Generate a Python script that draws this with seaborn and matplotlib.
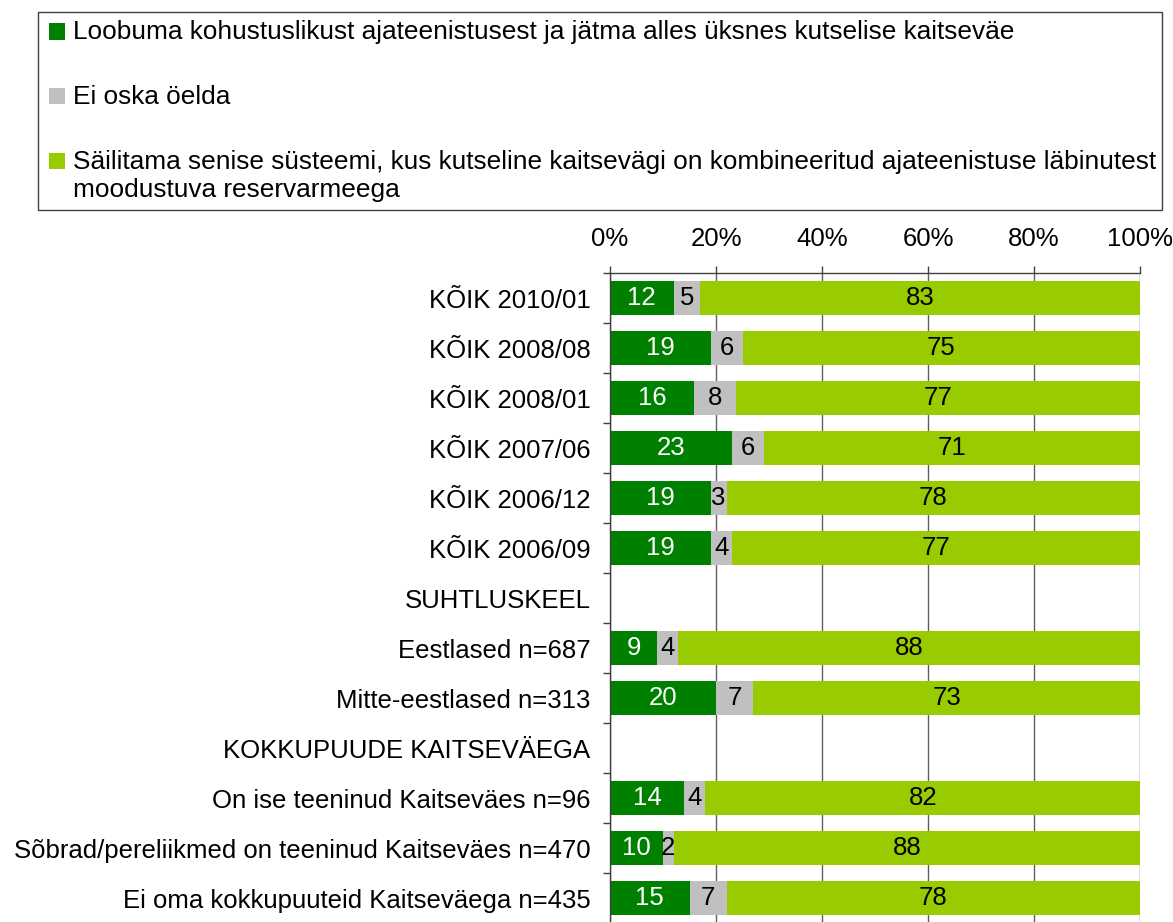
import numpy as np
import pandas as pd
import matplotlib
matplotlib.use("Agg")
import matplotlib.pyplot as plt
from matplotlib.patches import Patch, Rectangle
from matplotlib.legend_handler import HandlerPatch
import seaborn as sns

sns.set_theme(style="white")
plt.rcParams['font.family'] = ['Liberation Sans', 'DejaVu Sans']
plt.rcParams['text.color'] = 'black'

# Survey groups (rows without bars are section headers)
categories = [
    "KÕIK 2010/01",
    "KÕIK 2008/08",
    "KÕIK 2008/01",
    "KÕIK 2007/06",
    "KÕIK 2006/12",
    "KÕIK 2006/09",
    "SUHTLUSKEEL",
    "Eestlased n=687",
    "Mitte-eestlased n=313",
    "KOKKUPUUDE KAITSEVÄEGA",
    "On ise teeninud Kaitseväes n=96",
    "Sõbrad/pereliikmed on teeninud Kaitseväes n=470",
    "Ei oma kokkupuuteid Kaitseväega n=435",
]
nan = np.nan
loobuma = [12, 19, 16, 23, 19, 19, nan, 9, 20, nan, 14, 10, 15]
ei_oska = [5, 6, 8, 6, 3, 4, nan, 4, 7, nan, 4, 2, 7]
sailitama = [83, 75, 77, 71, 78, 77, nan, 88, 73, nan, 82, 88, 78]

series_names = [
    "Loobuma kohustuslikust ajateenistusest ja jätma alles üksnes kutselise kaitseväe",
    "Ei oska öelda",
    "Säilitama senise süsteemi, kus kutseline kaitsevägi on kombineeritud ajateenistuse läbinutest\nmoodustuva reservarmeega",
]
colors = ["#008000", "#C0C0C0", "#99CC00"]
text_colors = ["white", "black", "black"]

raw = pd.DataFrame({"group": categories, "s0": loobuma, "s1": ei_oska, "s2": sailitama})
cols = ["s0", "s1", "s2"]
total = raw[cols].sum(axis=1, min_count=1)
share = raw[cols].div(total, axis=0) * 100
cum = share.cumsum(axis=1)

FS = 18.5
FS_LEG = 18.9
fig = plt.figure(figsize=(11.73, 9.22), dpi=100)
ax = fig.add_axes([610 / 1173, -1 / 922, 530 / 1173, 650 / 922])

# stacked bars: draw cumulative extents from the outermost segment inwards
for i in reversed(range(3)):
    frame = pd.DataFrame({"group": categories, "right": cum[cols[i]]})
    sns.barplot(data=frame, x="right", y="group", order=categories, orient="h",
                color=colors[i], saturation=1, width=0.68, errorbar=None,
                linewidth=0, ax=ax, zorder=2)

# value labels centred in each segment
for r in range(len(categories)):
    for i, c in enumerate(cols):
        v = raw.loc[r, c]
        if np.isnan(v):
            continue
        centre = cum.loc[r, c] - share.loc[r, c] / 2
        ax.text(centre, r, f"{int(v)}", ha="center", va="center",
                color=text_colors[i], fontsize=FS, zorder=3)

ax.set_xlim(0, 100)
ax.set_ylim(len(categories) - 0.5, -0.5)
ax.set_xlabel("")
ax.set_ylabel("")

ax.set_xticks(np.arange(0, 101, 20))
ax.set_xticklabels([f"{t}%" for t in range(0, 101, 20)])
ax.tick_params(axis="x", top=True, labeltop=True, bottom=False, labelbottom=False,
               direction="out", length=5, width=1, color="#404040",
               labelsize=FS, pad=11, labelcolor="black")
ax.set_yticks(np.arange(-0.5, len(categories), 1), minor=True)
ax.tick_params(axis="y", which="major", left=False, length=0, pad=14,
               labelsize=FS, labelcolor="black")
ax.tick_params(axis="y", which="minor", left=True, direction="out",
               length=5, width=1, color="#404040")

ax.set_axisbelow(True)
ax.xaxis.grid(True, color="#606060", linewidth=1)
ax.yaxis.grid(False)
for side in ["right", "bottom"]:
    ax.spines[side].set_visible(False)
for side in ["left", "top"]:
    ax.spines[side].set_color("#404040")
    ax.spines[side].set_linewidth(1)


def square_handle(shift_y, shift_x=2.2):
    def make(legend, orig_handle, xdescent, ydescent, width, height, fontsize):
        return Rectangle((-xdescent + shift_x, -ydescent + shift_y), width, height)
    return make


handles = [Patch(facecolor=c, edgecolor="none") for c in colors]
handler_map = {handles[0]: HandlerPatch(patch_func=square_handle(-1)),
               handles[1]: HandlerPatch(patch_func=square_handle(-1)),
               handles[2]: HandlerPatch(patch_func=square_handle(0.58 * FS_LEG))}
leg = fig.legend(handles, series_names, handler_map=handler_map,
                 loc="upper left", bbox_to_anchor=(38 / 1173, 1 - 12 / 922, 1124 / 1173, 0),
                 mode="expand", borderaxespad=0, fontsize=FS_LEG, frameon=True,
                 fancybox=False, shadow=False, framealpha=1, edgecolor="#404040",
                 handlelength=0.58, handleheight=0.58, handletextpad=0.44,
                 borderpad=0.32, labelspacing=1.55, labelcolor="black")
leg.get_frame().set_linewidth(1)

fig.savefig("out.png", dpi=100)
